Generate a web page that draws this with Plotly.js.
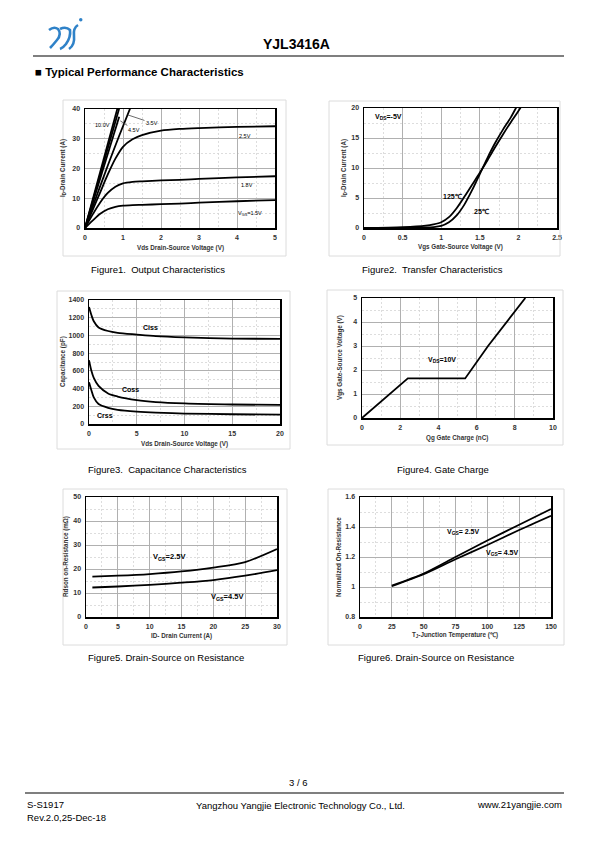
<!DOCTYPE html>
<html><head><meta charset="utf-8">
<script src="https://cdn.plot.ly/plotly-3.0.1.min.js"></script>
<style>html,body{margin:0;padding:0;background:#fff}#c{width:596px;height:842px}</style>
</head><body><div id="c"></div>
<script>
// ---------- DATA ----------
// Figure 1: Output characteristics (Vds V, Id A)
const f1_vds_steep = [0, 0.3, 0.6, 0.9];
const f1_id_10v   = [0, 14.2, 28.3, 42.4];
const f1_id_6v    = [0, 13.4, 26.8, 40.2];
const f1_id_45v   = [0, 12.5, 25.0, 37.4];
const f1_vds_35v  = [0, 0.3, 0.6, 0.9, 1.2];
const f1_id_35v   = [0, 10.6, 21.0, 31.0, 40.6];
const f1_vds = [0, 0.2, 0.4, 0.6, 0.8, 1.0, 1.25, 1.5, 2.0, 2.5, 3.0, 4.0, 5.0];
const f1_id_25v = [0, 6.0, 12.0, 18.0, 23.3, 27.3, 29.8, 31.2, 32.7, 33.3, 33.6, 34.0, 34.2];
const f1_id_18v = [0, 4.5, 8.6, 11.8, 13.9, 15.0, 15.5, 15.7, 16.0, 16.2, 16.5, 17.0, 17.4];
const f1_id_15v = [0, 2.5, 4.8, 6.3, 7.1, 7.5, 7.7, 7.8, 8.0, 8.2, 8.5, 9.0, 9.4];

// Figure 2: Transfer characteristics (Vgs V, Id A)
const f2_vgs_125 = [0, 0.5, 0.8, 0.9, 1.0, 1.1, 1.2, 1.3, 1.4, 1.5, 1.6, 1.7, 1.8, 1.9, 2.0, 2.05];
const f2_id_125  = [0, 0.15, 0.4, 0.6, 0.95, 1.8, 3.3, 5.2, 7.2, 9.2, 11.3, 13.5, 15.6, 17.6, 19.5, 20.5];
const f2_vgs_25  = [0, 0.5, 0.8, 0.9, 1.0, 1.1, 1.2, 1.3, 1.4, 1.5, 1.6, 1.7, 1.8, 1.9, 1.96, 2.0];
const f2_id_25   = [0, 0.02, 0.08, 0.15, 0.35, 0.95, 2.1, 3.9, 6.3, 9.0, 11.7, 14.2, 16.4, 18.4, 19.8, 20.8];

// Figure 3: Capacitance (Vds V, C pF)
const f3_vds  = [0, 0.25, 0.5, 1, 2, 3, 5, 7, 10, 15, 20];
const f3_ciss = [1320, 1230, 1160, 1090, 1050, 1030, 1010, 992, 978, 965, 960];
const f3_coss = [720, 600, 520, 430, 345, 310, 270, 248, 232, 220, 215];
const f3_crss = [470, 380, 300, 225, 182, 160, 140, 128, 118, 110, 105];

// Figure 4: Gate charge (Qg nC, Vgs V)
const f4_qg  = [0, 2.4, 5.4, 6.6, 8.55];
const f4_vgs = [0, 1.65, 1.65, 3.0, 5.0];

// Figure 5: Rdson vs Id (A, mOhm)
const f5_id    = [1, 5, 10, 15, 20, 25, 30];
const f5_r_25v = [16.8, 17.2, 17.9, 19.0, 20.6, 22.9, 28.3];
const f5_r_45v = [12.3, 12.7, 13.4, 14.3, 15.4, 17.2, 19.5];

// Figure 6: Normalized Rdson vs Tj
const f6_tj    = [25, 50, 75, 100, 125, 150];
const f6_r_25v = [1.01, 1.09, 1.20, 1.31, 1.415, 1.52];
const f6_r_45v = [1.005, 1.085, 1.185, 1.28, 1.38, 1.475];

// ---------- LAYOUT HELPERS ----------
const W = 596, H = 842;
const PX = x => x / W, PY = y => 1 - y / H;
const FONT = 'Liberation Sans, Arial, sans-serif';
const tickFont = {family: FONT, size: 7, color: '#333', weight: 'bold'};

function ax(range, dtick, mdtick, dom) {
  return {
    domain: dom, range: range, dtick: dtick, tick0: range[0],
    showline: true, mirror: true, linecolor: '#000', linewidth: 1.5,
    showgrid: true, gridcolor: '#b0b0b0', gridwidth: 1,
    minor: {showgrid: true, gridcolor: '#d4d4d4', griddash: '2px,2px', dtick: mdtick, gridwidth: 0.8},
    ticks: '', zeroline: false, fixedrange: true, tickfont: tickFont, ticklabelstandoff: 2
  };
}
const boxes = [
  // plot areas in px: [x0, x1, y0(top), y1(bottom)]
  [85, 275, 109, 228],
  [364, 557, 108, 228],
  [89, 280, 300, 424],
  [362, 553, 298, 418],
  [86, 277, 497, 617],
  [360, 551, 497, 617]
];
const xd = b => [PX(b[0]), PX(b[1])];
const yd = b => [PY(b[3]), PY(b[2])];

const layout = {
  width: W, height: H, margin: {l: 0, r: 0, t: 0, b: 0},
  paper_bgcolor: '#fff', plot_bgcolor: '#fff', showlegend: false,
  font: {family: FONT, color: '#000'},
  xaxis:  Object.assign(ax([0,5],1,0.5,xd(boxes[0])), {anchor:'y'}),
  yaxis:  Object.assign(ax([0,40],10,5,yd(boxes[0])), {anchor:'x'}),
  xaxis2: Object.assign(ax([0,2.5],0.5,0.25,xd(boxes[1])), {anchor:'y2'}),
  yaxis2: Object.assign(ax([0,20],5,2.5,yd(boxes[1])), {anchor:'x2'}),
  xaxis3: Object.assign(ax([0,20],5,2.5,xd(boxes[2])), {anchor:'y3'}),
  yaxis3: Object.assign(ax([0,1400],200,100,yd(boxes[2])), {anchor:'x3'}),
  xaxis4: Object.assign(ax([0,10],2,1,xd(boxes[3])), {anchor:'y4'}),
  yaxis4: Object.assign(ax([0,5],1,0.5,yd(boxes[3])), {anchor:'x4'}),
  xaxis5: Object.assign(ax([0,30],5,2.5,xd(boxes[4])), {anchor:'y5'}),
  yaxis5: Object.assign(ax([0,50],10,5,yd(boxes[4])), {anchor:'x5'}),
  xaxis6: Object.assign(ax([0,150],25,12.5,xd(boxes[5])), {anchor:'y6'}),
  yaxis6: Object.assign(ax([0.8,1.6],0.2,0.1,yd(boxes[5])), {anchor:'x6'}),
  shapes: [], annotations: []
};

// Frames around each figure (light gray)
const frames = [[63,100,286,256],[329,101,560,256],[57,291,290,449],[327,290,563,445],[63,489,287,645],[328,489,564,645]];
frames.forEach(f => layout.shapes.push({type:'rect', xref:'paper', yref:'paper',
  x0:PX(f[0]), x1:PX(f[2]), y0:PY(f[3]), y1:PY(f[1]), line:{color:'#dcdcdc', width:1}}));
// Header and footer rules
layout.shapes.push({type:'line', xref:'paper', yref:'paper', x0:PX(33), x1:PX(564), y0:PY(56), y1:PY(56), line:{color:'#000', width:1.2}});
layout.shapes.push({type:'line', xref:'paper', yref:'paper', x0:PX(25), x1:PX(564), y0:PY(793), y1:PY(793), line:{color:'#000', width:1.2}});
// Logo (stylized)
const logoBlue = '#2f82c8';
layout.shapes.push({type:'path', xref:'paper', yref:'paper', line:{color:logoBlue, width:2.6},
  path: `M ${PX(49)} ${PY(30)} Q ${PX(54)} ${PY(26)} ${PX(58)} ${PY(29)} Q ${PX(62)} ${PY(34)} ${PX(57)} ${PY(40)} Q ${PX(53)} ${PY(45)} ${PX(50)} ${PY(48)}`});
layout.shapes.push({type:'path', xref:'paper', yref:'paper', line:{color:logoBlue, width:2.6},
  path: `M ${PX(60)} ${PY(29)} Q ${PX(66)} ${PY(26)} ${PX(70)} ${PY(30)} Q ${PX(71)} ${PY(37)} ${PX(66)} ${PY(44)} Q ${PX(63)} ${PY(48)} ${PX(60)} ${PY(49)}`});
layout.shapes.push({type:'path', xref:'paper', yref:'paper', line:{color:logoBlue, width:2.6},
  path: `M ${PX(78)} ${PY(25)} Q ${PX(73)} ${PY(28)} ${PX(74)} ${PY(36)} Q ${PX(75)} ${PY(45)} ${PX(69)} ${PY(49)}`});
layout.shapes.push({type:'circle', xref:'paper', yref:'paper', fillcolor:logoBlue, line:{width:0},
  x0:PX(79), x1:PX(82.5), y0:PY(21.5), y1:PY(18)});

function txt(x, y, text, size, opts) {
  layout.annotations.push(Object.assign({xref:'paper', yref:'paper', x:PX(x), y:PY(y), text:text,
    showarrow:false, xanchor:'center', yanchor:'middle',
    font:{family:FONT, size:size, color:'#000'}}, opts || {}));
}
// Header
txt(296, 44, '<b>YJL3416A</b>', 14);
txt(33, 72, '<b>■ Typical Performance Characteristics</b>', 11.5, {xanchor:'left'});
// Captions
txt(158, 270, 'Figure1.  Output Characteristics', 9.5);
txt(432, 270, 'Figure2.  Transfer Characteristics', 9.5);
txt(167, 469, 'Figure3.  Capacitance Characteristics', 9.5);
txt(443, 469, 'Figure4. Gate Charge', 9.5);
txt(166, 657, 'Figure5. Drain-Source on Resistance', 9.5);
txt(436, 657, 'Figure6. Drain-Source on Resistance', 9.5);
// Footer
txt(298, 782, '3 / 6', 9.5);
txt(25, 804, 'S-S1917', 9.5, {xanchor:'left'});
txt(25, 817, 'Rev.2.0,25-Dec-18', 9.5, {xanchor:'left'});
txt(300, 805, 'Yangzhou Yangjie Electronic Technology Co., Ltd.', 9.5);
txt(564, 804, 'www.21yangjie.com', 9.5, {xanchor:'right'});

// Axis titles
const atf = 6.3, atc = '#333';
function ytitle(x, y, t){ txt(x, y, '<b>'+t+'</b>', atf, {textangle:-90, font:{family:FONT, size:atf, color:atc}}); }
function xtitle(x, y, t){ txt(x, y, '<b>'+t+'</b>', atf, {font:{family:FONT, size:atf, color:atc}}); }
ytitle(63, 168, 'I<sub>D</sub>-Drain Current (A)');
xtitle(180, 248, 'Vds Drain-Source Voltage (V)');
ytitle(344, 168, 'I<sub>D</sub>-Drain Current (A)');
xtitle(460, 247, 'Vgs Gate-Source Voltage (V)');
ytitle(63, 362, 'Capacitance (pF)');
xtitle(184, 444, 'Vds Drain-Source Voltage (V)');
ytitle(340, 358, 'Vgs Gate-Source Voltage (V)');
xtitle(457, 438, 'Qg Gate Charge (nC)');
ytitle(66, 557, 'Rdson on-Resistance (mΩ)');
xtitle(181, 636, 'ID- Drain Current (A)');
ytitle(338, 557, 'Normalized On-Resistance');
xtitle(455, 635, 'T<sub>J</sub>-Junction Temperature (℃)');

// In-plot labels
function lab(xr, yr, x, y, t, size, opts){
  layout.annotations.push(Object.assign({xref:xr, yref:yr, x:x, y:y, text:t, showarrow:false,
    font:{family:FONT, size:size||7, color:'#000'}}, opts||{}));
}
lab('x','y', 0.45, 34.5, '10.0V', 5.5);
lab('x','y', 1.13, 38.0, '3.5V', 5.5, {showarrow:true, ax:24, ay:8, arrowhead:0, arrowwidth:0.8, standoff:0});
lab('x','y', 0.93, 36.0, '4.5V', 5.5, {showarrow:true, ax:14, ay:9, arrowhead:0, arrowwidth:0.8, standoff:0});
lab('x','y', 4.2, 30.8, '2.5V', 5.5);
lab('x','y', 4.25, 14.5, '1.8V', 5.5);
lab('x','y', 4.35, 4.8, 'V<sub>GS</sub>=1.5V', 5.5);
lab('x2','y2', 0.32, 18.5, '<b>V<sub>DS</sub>=-5V</b>', 7);
lab('x2','y2', 1.15, 5.2, '<b>125℃</b>', 7);
lab('x2','y2', 1.52, 2.7, '<b>25℃</b>', 7);
lab('x3','y3', 6.4, 1095, '<b>Ciss</b>', 7);
lab('x3','y3', 4.3, 395, '<b>Coss</b>', 7);
lab('x3','y3', 1.7, 100, '<b>Crss</b>', 7);
lab('x4','y4', 4.2, 2.4, '<b>V<sub>DS</sub>=10V</b>', 7);
lab('x5','y5', 13.0, 25.0, '<b>V<sub>GS</sub>=2.5V</b>', 7.5);
lab('x5','y5', 22.2, 8.5, '<b>V<sub>GS</sub>=4.5V</b>', 7.5);
lab('x6','y6', 81, 1.37, '<b>V<sub>GS</sub>= 2.5V</b>', 7);
lab('x6','y6', 112, 1.225, '<b>V<sub>GS</sub>= 4.5V</b>', 7);

// ---------- TRACES ----------
const L = (x, y, xa, ya, shape) => ({x:x, y:y, xaxis:xa, yaxis:ya, type:'scatter', mode:'lines',
  line:{color:'#000', width:1.8, shape:shape||'spline', smoothing:0.8}, hoverinfo:'skip'});
const data = [
  L(f1_vds_steep, f1_id_10v, 'x', 'y', 'linear'),
  L(f1_vds_steep, f1_id_6v, 'x', 'y', 'linear'),
  L(f1_vds_steep, f1_id_45v, 'x', 'y', 'linear'),
  L(f1_vds_35v, f1_id_35v, 'x', 'y'),
  L(f1_vds, f1_id_25v, 'x', 'y'),
  L(f1_vds, f1_id_18v, 'x', 'y'),
  L(f1_vds, f1_id_15v, 'x', 'y'),
  L(f2_vgs_125, f2_id_125, 'x2', 'y2'),
  L(f2_vgs_25, f2_id_25, 'x2', 'y2'),
  L(f3_vds, f3_ciss, 'x3', 'y3'),
  L(f3_vds, f3_coss, 'x3', 'y3'),
  L(f3_vds, f3_crss, 'x3', 'y3'),
  L(f4_qg, f4_vgs, 'x4', 'y4', 'linear'),
  L(f5_id, f5_r_25v, 'x5', 'y5'),
  L(f5_id, f5_r_45v, 'x5', 'y5'),
  L(f6_tj, f6_r_25v, 'x6', 'y6'),
  L(f6_tj, f6_r_45v, 'x6', 'y6')
];
Plotly.newPlot('c', data, layout, {staticPlot:true, displayModeBar:false});
</script></body></html>
